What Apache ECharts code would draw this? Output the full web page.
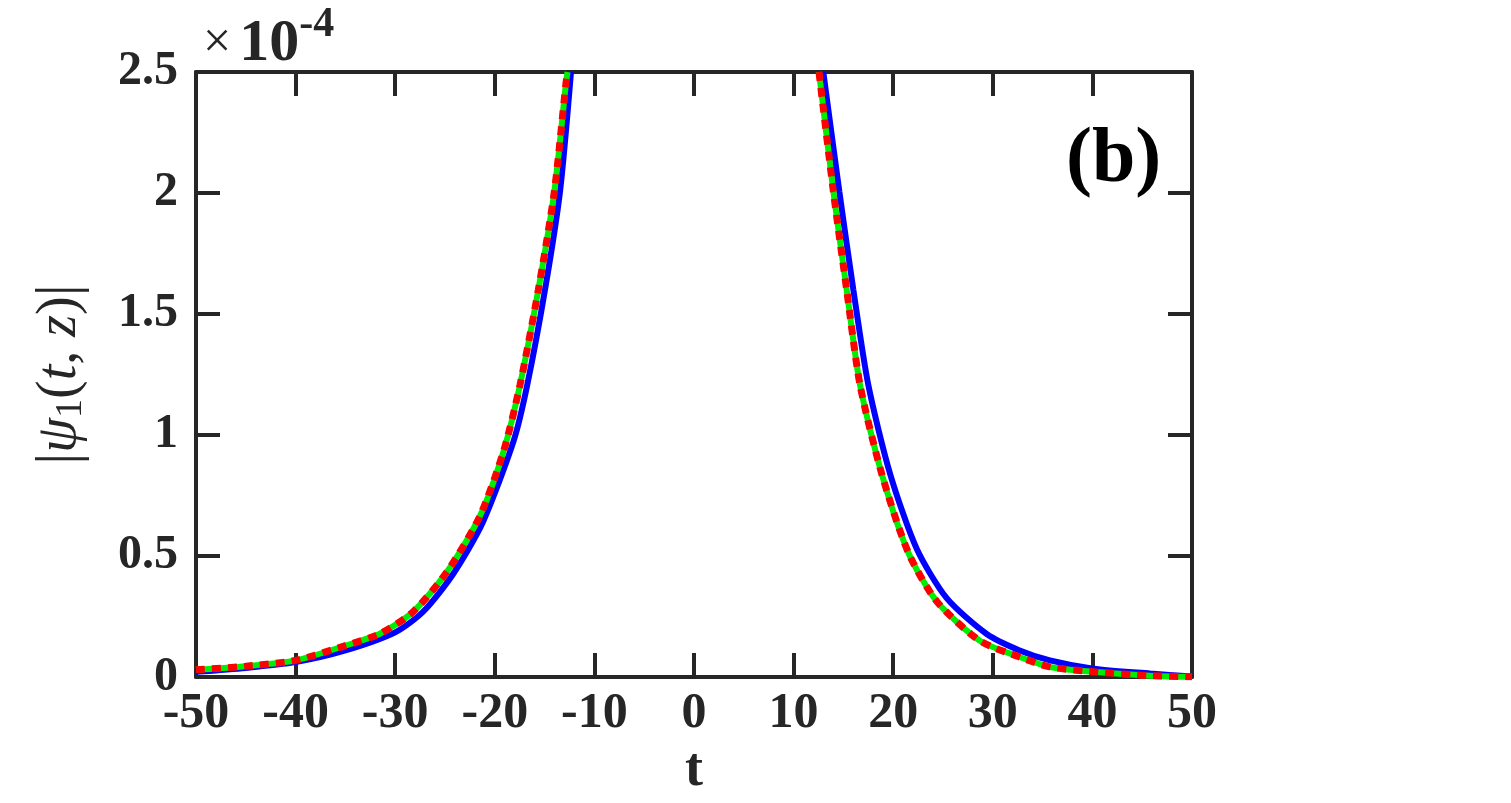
<!DOCTYPE html>
<html>
<head>
<meta charset="utf-8">
<title>psi1</title>
<script src="https://cdn.jsdelivr.net/npm/echarts@6/dist/echarts.min.js"></script>
<style>
  html, body { margin: 0; padding: 0; background: #fff; }
  #main { width: 1511px; height: 803px; }
</style>
</head>
<body>
<div id="main"></div>
<script>
// values of |psi_1| in units of 1e-4
var tBlueL = [-50, -45, -40, -35, -30, -27.2, -24.2, -21.2, -18.1, -16.74, -14.96, -13.45, -12.35];
var vBlueL = [0.022, 0.038, 0.062, 0.11, 0.185, 0.27, 0.425, 0.64, 0.977, 1.207, 1.6, 2.007, 2.5];
var tBlueR = [12.98, 14.59, 16.0, 17.5, 19.68, 22.36, 25.37, 29.39, 32.7, 35.74, 40.1, 45.8, 50];
var vBlueR = [2.5, 2.007, 1.6, 1.207, 0.841, 0.53, 0.326, 0.178, 0.11, 0.069, 0.035, 0.015, 0.002];

var tDashL = [-50, -45, -40, -35, -31.5, -28.2, -24.8, -21.5, -19.1, -17.47, -15.63, -14.02, -12.85, -12.7];
var vDashL = [0.03, 0.045, 0.069, 0.13, 0.18, 0.27, 0.435, 0.665, 0.936, 1.207, 1.6, 2.007, 2.455, 2.5];
var tDashR = [12.55, 13.99, 15.33, 16.67, 18.84, 21.5, 24.37, 28.7, 32.7, 35.74, 40.1, 45.8, 50];
var vDashR = [2.5, 2.007, 1.6, 1.207, 0.841, 0.516, 0.313, 0.15, 0.083, 0.042, 0.022, 0.006, 0.001];

var xMin = -50, xMax = 50, xStep = 10;
var yMin = 0, yMax = 2.5, yStep = 0.5;

function pairs(t, v) {
  var out = [];
  for (var i = 0; i < t.length; i++) out.push([t[i], v[i]]);
  return out;
}

var serif = '"Liberation Serif", "DejaVu Serif", serif';
var axisCol = '#262626';

function line(name, data, color, width, dash, z) {
  return {
    name: name,
    type: 'line',
    data: data,
    showSymbol: false,
    smooth: 0.25,
    z: z,
    lineStyle: { color: color, width: width, type: dash || 'solid', cap: 'butt' }
  };
}

var frameLine = { onZero: false, lineStyle: { color: axisCol, width: 4 } };
var frameTick = { inside: true, length: 24, lineStyle: { color: axisCol, width: 4 } };

var myChart = echarts.init(document.getElementById('main'));
var option = {
  animation: false,
  backgroundColor: '#fff',
  grid: { left: 196, right: 319, top: 72, bottom: 116 },
  xAxis: [{
    type: 'value', min: xMin, max: xMax, interval: xStep,
    position: 'bottom',
    name: 't', nameLocation: 'middle', nameGap: 64,
    nameTextStyle: { fontFamily: serif, fontWeight: 'bold', fontSize: 54, color: axisCol },
    axisLine: frameLine,
    axisTick: frameTick,
    axisLabel: { fontFamily: serif, fontWeight: 'bold', fontSize: 50, color: axisCol, margin: 12 },
    splitLine: { show: false }
  }, {
    type: 'value', min: xMin, max: xMax, interval: xStep,
    position: 'top',
    axisLine: frameLine,
    axisTick: frameTick,
    axisLabel: { show: false },
    splitLine: { show: false }
  }],
  yAxis: [{
    type: 'value', min: yMin, max: yMax, interval: yStep,
    position: 'left',
    name: '{b|\u007C}{i|\u03C8}{s|1}{n|(}{i|t}{n|, }{i|z}{n|)}{b|\u007C}',
    nameLocation: 'middle', nameRotate: 90, nameGap: 106,
    nameTextStyle: {
      color: axisCol,
      rich: {
        b: { fontFamily: serif, fontSize: 60, color: axisCol },
        i: { fontFamily: serif, fontStyle: 'italic', fontSize: 56, color: axisCol },
        n: { fontFamily: serif, fontSize: 56, color: axisCol },
        s: { fontFamily: serif, fontSize: 38, color: axisCol, padding: [22, 0, 0, 0] }
      }
    },
    axisLine: frameLine,
    axisTick: frameTick,
    axisLabel: { fontFamily: serif, fontWeight: 'bold', fontSize: 48, color: axisCol, margin: 18 },
    splitLine: { show: false }
  }, {
    type: 'value', min: yMin, max: yMax, interval: yStep,
    position: 'right',
    axisLine: frameLine,
    axisTick: frameTick,
    axisLabel: { show: false },
    splitLine: { show: false }
  }],
  graphic: [{
    type: 'text', left: 203, top: 4,
    style: {
      text: '{x|\u00D7}{n|10}{s|-4}',
      rich: {
        x: { fontFamily: serif, fontSize: 50, fill: axisCol, padding: [12, 8, 0, 0] },
        n: { fontFamily: serif, fontWeight: 'bold', fontSize: 60, fill: axisCol, padding: [12, 0, 0, 0] },
        s: { fontFamily: serif, fontWeight: 'bold', fontSize: 42, fill: axisCol, padding: [0, 0, 26, 0] }
      }
    }
  }, {
    type: 'text', left: 1066, top: 122,
    style: { text: '(b)', fontFamily: serif, fontWeight: 'bold', fontSize: 78, fill: '#000' }
  }],
  series: [
    line('exact', pairs(tBlueL, vBlueL), '#0000ff', 6, null, 2),
    line('exact', pairs(tBlueR, vBlueR), '#0000ff', 6, null, 2),
    line('num', pairs(tDashL, vDashL), '#00ee00', 6, null, 3),
    line('num', pairs(tDashR, vDashR), '#00ee00', 6, null, 3),
    line('approx', pairs(tDashL, vDashL), '#ff0000', 7, [9, 7], 4),
    line('approx', pairs(tDashR, vDashR), '#ff0000', 7, [9, 7], 4)
  ]
};
myChart.setOption(option);
</script>
</body>
</html>
